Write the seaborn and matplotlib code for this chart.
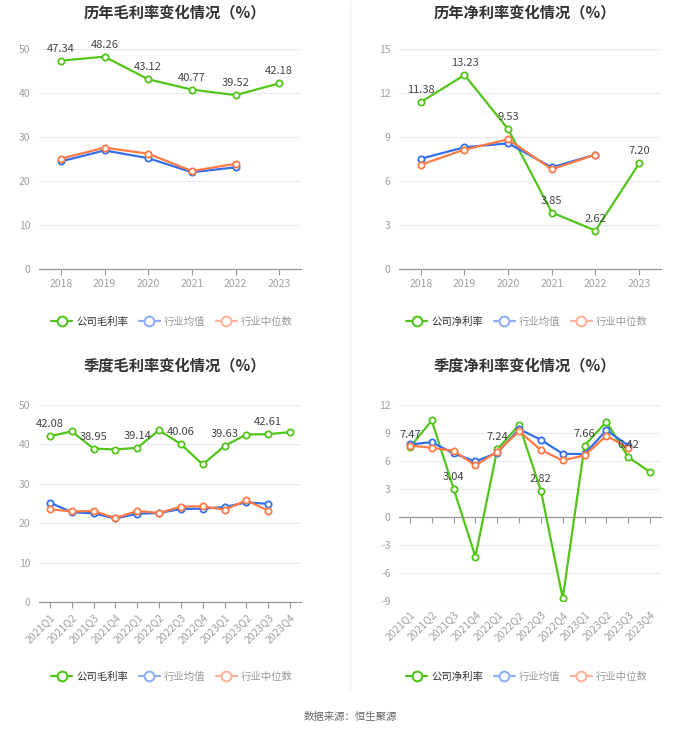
import numpy as np
import pandas as pd
import matplotlib
matplotlib.use("Agg")
import matplotlib.pyplot as plt
import seaborn as sns
from matplotlib.lines import Line2D

# ---------------- data ----------------
years = ["2018", "2019", "2020", "2021", "2022", "2023"]
quarters = ["2021Q1", "2021Q2", "2021Q3", "2021Q4",
            "2022Q1", "2022Q2", "2022Q3", "2022Q4",
            "2023Q1", "2023Q2", "2023Q3", "2023Q4"]

annual_gross_company = [47.34, 48.26, 43.12, 40.77, 39.52, 42.18]
annual_gross_ind_mean = [24.45, 26.95, 25.2, 22.0, 23.1]
annual_gross_ind_median = [25.07, 27.57, 26.2, 22.27, 23.9]

annual_net_company = [11.38, 13.23, 9.53, 3.85, 2.62, 7.20]
annual_net_ind_mean = [7.52, 8.3, 8.57, 6.93, 7.8]
annual_net_ind_median = [7.11, 8.14, 8.84, 6.8, 7.8]

q_gross_company = [42.08, 43.3, 38.95, 38.7, 39.14, 43.6, 40.06, 34.9, 39.63, 42.5, 42.61, 43.1]
q_gross_ind_mean = [25.2, 22.8, 22.5, 21.2, 22.4, 22.6, 23.6, 23.7, 24.1, 25.3, 24.9]
q_gross_ind_median = [23.5, 23.0, 23.1, 21.3, 23.1, 22.6, 24.2, 24.3, 23.4, 25.8, 23.2]

q_net_company = [7.47, 10.34, 3.04, -4.24, 7.24, 9.88, 2.82, -8.7, 7.66, 10.2, 6.42, 4.81]
q_net_ind_mean = [7.77, 8.02, 6.81, 5.95, 6.88, 9.41, 8.27, 6.77, 6.74, 9.3, 7.66]
q_net_ind_median = [7.66, 7.42, 7.09, 5.53, 6.99, 9.2, 7.17, 6.06, 6.6, 8.7, 7.42]

titles = ["历年毛利率变化情况（%）", "历年净利率变化情况（%）",
          "季度毛利率变化情况（%）", "季度净利率变化情况（%）"]
company_gross_name = "公司毛利率"
company_net_name = "公司净利率"
mean_name = "行业均值"
median_name = "行业中位数"
source_text = "数据来源：恒生聚源"

# ---------------- style ----------------
sns.set_theme(style="white")
plt.rcParams["font.family"] = ["Noto Sans CJK SC", "DejaVu Sans"]
plt.rcParams["axes.unicode_minus"] = False

GREEN = "#52C41A"
BLUE = "#3370EB"
ORANGE = "#FF7A45"
BLUE_LIGHT = "#8FB0F5"
ORANGE_LIGHT = "#FFB39A"
GRID = "#E6EBF3"
AXIS = "#999999"
TICKTXT = "#A0A0A0"

W, H = 700, 734
fig = plt.figure(figsize=(W / 100, H / 100), dpi=100)
fig.patch.set_facecolor("white")


def rect(x0, y0, x1, y1):
    return [x0 / W, 1 - y1 / H, (x1 - x0) / W, (y1 - y0) / H]


def panel(r, cats, company, mean, median, ylim, yticks, label_idx, rotate, zero_axis=False):
    ax = fig.add_axes(rect(*r))
    n = len(cats)
    frames = []
    for name, vals in (("company", company), ("mean", mean), ("median", median)):
        frames.append(pd.DataFrame({"x": np.arange(len(vals)), "y": vals, "s": name}))
    df = pd.concat(frames, ignore_index=True)
    colors = {"company": GREEN, "mean": BLUE, "median": ORANGE}
    for s in ("company", "mean", "median"):
        sub = df[df["s"] == s]
        sns.lineplot(data=sub, x="x", y="y", ax=ax, color=colors[s], linewidth=1.6,
                     marker="o", markersize=4.5, markerfacecolor="white",
                     markeredgecolor=colors[s], markeredgewidth=1.3, zorder=3 if s == "company" else 4)
    for i in label_idx:
        ax.annotate(f"{company[i]:.2f}", (i, company[i]), xytext=(0, 5),
                    textcoords="offset points", ha="center", va="bottom",
                    fontsize=8, color="#444444", zorder=6)
    ax.set_xlim(-0.5, n - 0.5)
    ax.set_ylim(*ylim)
    ax.set_yticks(yticks)
    ax.set_yticklabels([str(t) for t in yticks])
    for t in yticks:
        if t != 0 or not True:
            pass
    for t in yticks:
        ax.axhline(t, color=GRID, linewidth=0.8, zorder=0)
    ax.set_xlabel("")
    ax.set_ylabel("")
    for sp in ("top", "right", "left"):
        ax.spines[sp].set_visible(False)
    ax.tick_params(axis="y", length=0, pad=6, labelsize=7.5, labelcolor=TICKTXT)
    ax.set_xticks(np.arange(n))
    if zero_axis:
        ax.spines["bottom"].set_visible(False)
        ax.tick_params(axis="x", length=0, pad=6, labelsize=7.5, labelcolor=TICKTXT)
        frac = (0 - ylim[0]) / (ylim[1] - ylim[0])
        sec = ax.secondary_xaxis(frac)
        sec.set_xticks(np.arange(n))
        sec.set_xticklabels([""] * n)
        sec.tick_params(axis="x", direction="out", length=4, width=0.8, color=AXIS)
        sec.spines["bottom"].set_color(AXIS)
        sec.spines["bottom"].set_linewidth(0.9)
    else:
        ax.spines["bottom"].set_color(AXIS)
        ax.spines["bottom"].set_linewidth(0.9)
        ax.tick_params(axis="x", direction="out", length=4, width=0.8, color=AXIS,
                       pad=3, labelsize=7.5, labelcolor=TICKTXT, bottom=True)
    ax.set_xticklabels(cats)
    if rotate:
        for lab in ax.get_xticklabels():
            lab.set_rotation(45)
            lab.set_ha("right")
            lab.set_va("top")
            lab.set_rotation_mode("anchor")
    ax.set_facecolor("none")
    return ax


panel((39, 49, 301, 269), years, annual_gross_company, annual_gross_ind_mean,
      annual_gross_ind_median, (0, 50), [0, 10, 20, 30, 40, 50], range(6), False)
panel((399, 49, 661, 269), years, annual_net_company, annual_net_ind_mean,
      annual_net_ind_median, (0, 15), [0, 3, 6, 9, 12, 15], range(6), False)
panel((39, 405, 301, 602), quarters, q_gross_company, q_gross_ind_mean,
      q_gross_ind_median, (0, 50), [0, 10, 20, 30, 40, 50], [0, 2, 4, 6, 8, 10], True)
panel((399, 405, 661, 601), quarters, q_net_company, q_net_ind_mean,
      q_net_ind_median, (-9, 12), [-9, -6, -3, 0, 3, 6, 9, 12], [0, 2, 4, 6, 8, 10], True,
      zero_axis=True)

# titles
for (cx, cy), t in zip([(175, 12), (525, 12), (175, 365), (525, 365)], titles):
    fig.text(cx / W, 1 - cy / H, t, ha="center", va="center", fontsize=11,
             fontweight="bold", color="#333333")


def legend(cx, cy, first):
    handles = [
        Line2D([], [], color=GREEN, lw=1.6, marker="o", markersize=7,
               markerfacecolor="white", markeredgewidth=1.5),
        Line2D([], [], color=BLUE_LIGHT, lw=1.6, marker="o", markersize=7,
               markerfacecolor="white", markeredgewidth=1.5),
        Line2D([], [], color=ORANGE_LIGHT, lw=1.6, marker="o", markersize=7,
               markerfacecolor="white", markeredgewidth=1.5),
    ]
    leg = fig.legend(handles, [first, mean_name, median_name], loc="center",
                     bbox_to_anchor=(cx / W, 1 - cy / H), ncol=3, frameon=False,
                     fontsize=7.5, handlelength=2.0, handletextpad=0.4,
                     columnspacing=1.0)
    cols = ["#333333", "#999999", "#999999"]
    for txt, c in zip(leg.get_texts(), cols):
        txt.set_color(c)


legend(172, 322, company_gross_name)
legend(527, 322, company_net_name)
legend(172, 677, company_gross_name)
legend(527, 677, company_net_name)

# faint separator
fig.add_artist(Line2D([350 / W, 350 / W], [1 - 690 / H, 1.0], color="#F2F2F2",
                      lw=1.0, transform=fig.transFigure))

fig.text(0.5, 1 - 717 / H, source_text, ha="center", va="center", fontsize=7.5,
         color="#666666")

fig.savefig("out.png", dpi=100, facecolor="white")
